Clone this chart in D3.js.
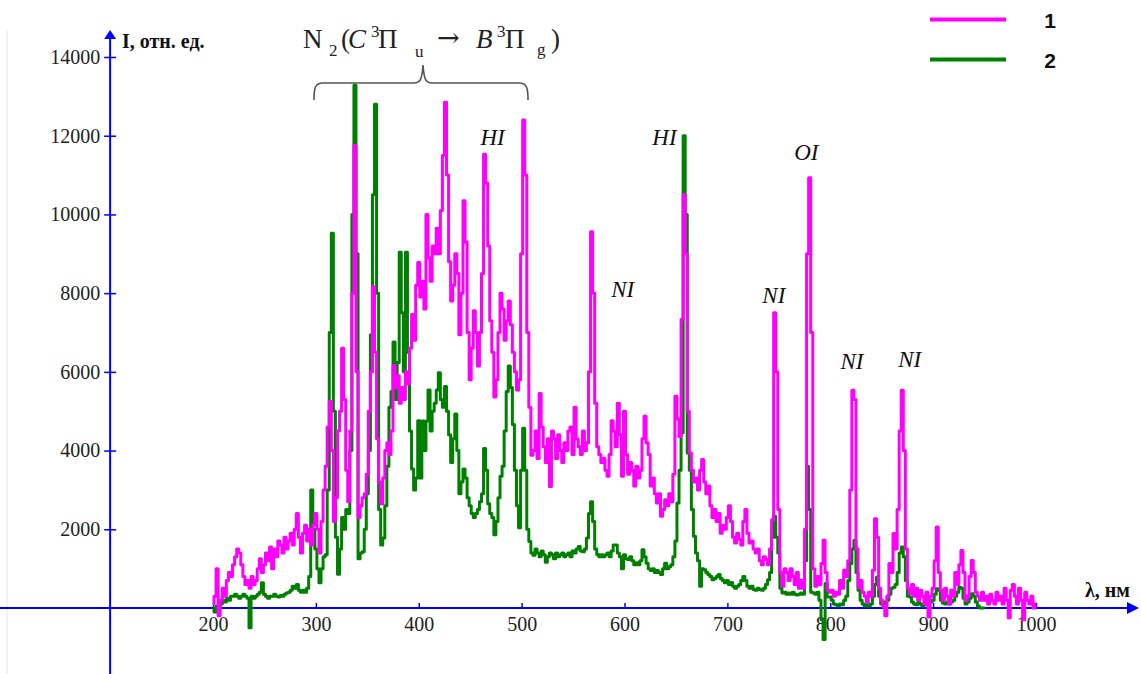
<!DOCTYPE html>
<html>
<head>
<meta charset="utf-8">
<script src="https://cdn.jsdelivr.net/npm/d3@7"></script>
<style>
  body { margin: 0; background: #fff; }
  svg { display: block; }
  svg text { font-family: "Liberation Serif", "Times New Roman", "DejaVu Serif", serif; }
  svg text.sans { font-family: "Liberation Sans", Arial, sans-serif; }
  svg text.arrow { font-family: "DejaVu Serif", serif; }
</style>
</head>
<body>
<svg width="1141" height="674"></svg>
<script>
// wavelength grid, nm
var wavelengths = [
  200,202,204,206,208,210,212,214,216,218,220,222,224,226,228,230,232,234,236,238,
  240,242,244,246,248,250,252,254,256,258,260,262,264,266,268,270,272,274,276,278,
  280,282,284,286,288,290,292,294,296,298,300,302,304,306,308,310,312,314,316,318,
  320,322,324,326,328,330,332,334,336,338,340,342,344,346,348,350,352,354,356,358,
  360,362,364,366,368,370,372,374,376,378,380,382,384,386,388,390,392,394,396,398,
  400,402,404,406,408,410,412,414,416,418,420,422,424,426,428,430,432,434,436,438,
  440,442,444,446,448,450,452,454,456,458,460,462,464,466,468,470,472,474,476,478,
  480,482,484,486,488,490,492,494,496,498,500,502,504,506,508,510,512,514,516,518,
  520,522,524,526,528,530,532,534,536,538,540,542,544,546,548,550,552,554,556,558,
  560,562,564,566,568,570,572,574,576,578,580,582,584,586,588,590,592,594,596,598,
  600,602,604,606,608,610,612,614,616,618,620,622,624,626,628,630,632,634,636,638,
  640,642,644,646,648,650,652,654,656,658,660,662,664,666,668,670,672,674,676,678,
  680,682,684,686,688,690,692,694,696,698,700,702,704,706,708,710,712,714,716,718,
  720,722,724,726,728,730,732,734,736,738,740,742,744,746,748,750,752,754,756,758,
  760,762,764,766,768,770,772,774,776,778,780,782,784,786,788,790,792,794,796,798,
  800,802,804,806,808,810,812,814,816,818,820,822,824,826,828,830,832,834,836,838,
  840,842,844,846,848,850,852,854,856,858,860,862,864,866,868,870,872,874,876,878,
  880,882,884,886,888,890,892,894,896,898,900,902,904,906,908,910,912,914,916,918,
  920,922,924,926,928,930,932,934,936,938,940,942,944,946,948,950,952,954,956,958,
  960,962,964,966,968,970,972,974,976,978,980,982,984,986,988,990,992,994,996,998,
  1000
];

// spectrum 1 (magenta), 200..1000 nm
var series1 = [
  100,300,1000,-200,200,500,300,700,900,800,1100,1300,1500,1400,1100,800,600,700,500,800,
  600,700,1000,1250,900,1100,1400,1200,1550,1000,1500,1300,1700,1600,1400,1800,1500,1700,1900,1600,
  2000,2400,1800,1400,1900,2100,1700,2000,1600,2100,2400,2000,1400,2200,3000,3600,4600,5250,4000,2200,
  2800,4500,5000,6600,5300,3500,2700,4500,8000,11750,6000,2300,2600,2800,2900,3400,5000,6000,8160,6500,
  4300,3200,2650,3300,4000,4200,3900,4500,6160,5600,5900,5200,5600,5300,6000,5700,6600,7460,6800,8200,
  8780,7900,8300,7600,10000,8900,8300,9200,9000,9650,9000,10100,11500,12850,11000,8800,7800,8200,9000,8500,
  6940,8000,10350,9300,7000,5800,6600,7550,7000,6150,7000,8500,11530,10800,9200,7300,6500,5360,5800,7000,
  8000,7600,6800,7300,7800,7200,6500,6000,5540,5800,9000,12400,11000,7000,5100,3880,4000,4500,3800,5450,
  4600,4100,3700,4300,3090,4500,4300,3800,4400,4000,3700,4200,4000,4500,4600,3900,5100,4300,4100,3900,
  4500,4000,4200,6000,9560,8000,5200,4100,3900,3700,3800,3500,3350,3900,4760,4500,4100,5200,4400,3350,
  5000,3900,3400,3700,3500,3100,3600,3300,3500,4300,4870,4200,3900,3100,3300,2900,2670,2900,2330,2500,
  2750,2600,2900,2700,3400,5380,4800,4360,7330,10500,9000,5000,3940,3500,3200,3300,3000,3500,3770,3200,
  2900,3100,2600,2300,2500,2200,2400,1900,2100,2000,2300,2600,2200,1800,1650,1900,1750,1600,2200,2500,
  1900,1650,1700,1500,1400,1500,1200,1100,1300,1230,1100,1500,2240,7500,6000,2500,900,550,1000,900,
  700,1000,800,600,900,500,700,500,2000,9000,10930,7000,1000,550,800,600,1130,1720,900,450,
  400,450,300,400,350,700,500,960,800,1200,3000,5530,5300,1500,530,700,400,300,150,400,
  300,960,2270,1800,500,200,30,-200,300,1130,900,1890,1500,2500,4500,5530,4000,1500,500,360,
  600,300,500,200,450,300,100,400,-230,300,500,1200,2060,900,450,200,500,300,100,450,
  300,900,600,1100,1460,900,200,300,800,1210,900,400,300,200,400,200,300,100,350,200,
  100,400,200,300,100,500,200,-250,450,600,300,100,500,200,-300,400,200,100,300,0,
  100
];

// spectrum 2 (green), 200..950 nm
var series2 = [
  0,-100,50,0,100,200,150,250,200,300,300,350,300,250,300,350,300,250,-500,300,
  250,300,350,400,640,350,300,250,300,300,350,300,280,320,300,350,380,400,450,550,
  500,600,450,400,450,400,500,800,3000,2000,1500,1000,640,1000,1300,1350,3000,7000,9520,5000,
  1800,860,1500,2300,2000,2500,2400,4000,10000,13280,9000,1250,1400,1430,2000,2900,4000,6940,10500,12800,
  8000,2500,1600,1780,2600,3600,5100,5500,6760,5300,6240,9040,7500,6000,9040,6500,4500,3530,3000,3300,
  4760,3300,4750,4000,4750,5540,4500,5000,5200,5540,5980,5300,5100,5630,5000,4400,3700,4300,4930,4000,
  2900,3200,3530,3300,2800,2600,2400,2300,2400,2500,2700,2900,4050,3500,2650,2400,2300,1860,2200,2800,
  3350,3600,4500,5500,6150,5600,4660,3500,2600,2040,3500,4570,3500,2000,1690,1400,1340,1500,1400,1300,
  1450,1350,1160,1300,1400,1350,1250,1400,1300,1350,1400,1300,1350,1400,1300,1450,1400,1500,1560,1450,
  1430,1500,1780,2400,2700,2200,1500,1360,1300,1350,1300,1350,1400,1300,1450,1600,1600,1400,1300,1000,
  1350,1250,1230,1300,1200,1100,1150,1100,1200,1480,1300,1140,1000,950,1000,900,950,900,850,1000,
  1140,1000,1050,1100,1300,1700,2670,3500,4450,12000,10000,3940,3500,2500,1820,1400,1200,550,1000,970,
  900,850,800,720,750,800,850,750,700,640,700,600,650,550,500,550,600,700,800,700,
  550,500,550,470,450,500,470,450,500,600,720,900,1800,2330,1800,1400,500,380,400,350,
  380,350,400,350,330,350,380,350,1200,3600,2500,400,380,350,400,200,-300,-800,620,280,
  280,200,100,80,50,100,80,200,300,700,1130,1500,1720,900,450,200,100,50,80,50,
  100,300,600,790,300,100,150,100,200,350,500,530,600,900,1400,1550,1300,700,300,280,
  150,100,80,150,100,50,100,80,100,150,200,350,490,450,200,130,100,150,100,150,
  200,300,400,530,500,250,100,150,250,360,300,150,50,0,0,0
];

var xTicks = [200, 300, 400, 500, 600, 700, 800, 900, 1000];
var yTicks = [2000, 4000, 6000, 8000, 10000, 12000, 14000];

var legendLabels = ["1", "2"];
var seriesColors = ["#ff00ff", "#008000"];

// line labels: text, wavelength of left edge, intensity of baseline
var peakLabels = ["HI", "HI", "OI", "NI", "NI", "NI", "NI"];
var peakLambda = [460, 627, 765, 587, 734, 810, 866];
var peakLevel = [11770, 11770, 11390, 7910, 7750, 6080, 6130];

var svg = d3.select("svg");

var x = d3.scaleLinear().domain([200, 1000]).range([213, 1036]);
var y = d3.scaleLinear().domain([0, 14000]).range([608, 57]);

var axisColor = "#0000ff";
var x0 = x(100);   // vertical axis sits at 100 nm
var y0 = y(0);

// faint frame line on the left
svg.append("line")
  .attr("x1", 7).attr("x2", 7)
  .attr("y1", 30).attr("y2", 674)
  .attr("stroke", "#e8e8e8")
  .attr("stroke-width", 1);

// horizontal axis with arrow
svg.append("line")
  .attr("x1", 0).attr("x2", 1130)
  .attr("y1", y0).attr("y2", y0)
  .attr("stroke", axisColor)
  .attr("stroke-width", 2);
svg.append("path")
  .attr("d", "M1139," + y0 + " L1127," + (y0 - 6) + " L1127," + (y0 + 6) + " Z")
  .attr("fill", axisColor);

// vertical axis with arrow
svg.append("line")
  .attr("x1", x0).attr("x2", x0)
  .attr("y1", 674).attr("y2", 38)
  .attr("stroke", axisColor)
  .attr("stroke-width", 2);
svg.append("path")
  .attr("d", "M" + x0 + ",30 L" + (x0 - 6) + ",39 L" + (x0 + 6) + ",39 Z")
  .attr("fill", axisColor);

// x ticks
var gx = svg.append("g")
  .attr("transform", "translate(0," + y0 + ")")
  .call(d3.axisBottom(x).tickValues(xTicks).tickFormat(d3.format("d")))
  .attr("font-family", null)
  .attr("font-size", null);
gx.select(".domain").remove();
gx.selectAll(".tick line")
  .attr("y1", -5).attr("y2", 1)
  .attr("stroke", axisColor)
  .attr("stroke-width", 1.5);
gx.selectAll(".tick text")
  .attr("y", 9)
  .attr("fill", "#222")
  .style("font-size", "20px");

// y ticks
var gy = svg.append("g")
  .attr("transform", "translate(" + x0 + ",0)")
  .call(d3.axisLeft(y).tickValues(yTicks).tickFormat(d3.format("d")))
  .attr("font-family", null)
  .attr("font-size", null);
gy.select(".domain").remove();
gy.selectAll(".tick line")
  .attr("x1", 6).attr("x2", -6)
  .attr("stroke", axisColor)
  .attr("stroke-width", 1.5);
gy.selectAll(".tick text")
  .attr("x", -10)
  .attr("fill", "#222")
  .style("font-size", "20px");

// axis titles
svg.append("text")
  .attr("x", 122).attr("y", 48)
  .attr("fill", "#111")
  .style("font-size", "20px")
  .style("font-weight", "bold")
  .text("I, отн. ед.");
svg.append("text")
  .attr("x", 1085).attr("y", 597)
  .attr("fill", "#111")
  .style("font-size", "20px")
  .style("font-weight", "bold")
  .text("λ, нм");

// spectra
var line = d3.line()
  .curve(d3.curveStep)
  .x(function(d, i) { return x(wavelengths[i]); })
  .y(function(d) { return y(d); });

svg.append("path")
  .attr("d", line(series2))
  .attr("fill", "none")
  .attr("stroke", seriesColors[1])
  .attr("stroke-width", 3)
  .attr("stroke-linejoin", "round");

svg.append("path")
  .attr("d", line(series1))
  .attr("fill", "none")
  .attr("stroke", seriesColors[0])
  .attr("stroke-width", 3)
  .attr("stroke-linejoin", "round");

// peak labels
svg.selectAll(".peak")
  .data(peakLabels)
  .enter().append("text")
  .attr("class", "peak")
  .attr("x", function(d, i) { return x(peakLambda[i]); })
  .attr("y", function(d, i) { return y(peakLevel[i]); })
  .attr("fill", "#111")
  .style("font-style", "italic")
  .style("font-size", "23px")
  .text(function(d) { return d; });

// band title N2(C3Pu -> B3Pg), pieces placed one by one
var titleParts = [
  {t: "N", x: 303, y: 48, s: 27},
  {t: "2", x: 329, y: 56, s: 17},
  {t: "(", x: 341, y: 48, s: 27},
  {t: "C", x: 348, y: 48, s: 27, it: true},
  {t: "3", x: 371, y: 37, s: 17},
  {t: "Π", x: 378, y: 48, s: 27},
  {t: "u", x: 415, y: 57, s: 17},
  {t: "→", x: 437, y: 47, s: 27, cls: "arrow"},
  {t: "B", x: 476, y: 48, s: 27, it: true},
  {t: "3", x: 497, y: 37, s: 17},
  {t: "Π", x: 505, y: 48, s: 27},
  {t: "g", x: 537, y: 55, s: 17},
  {t: ")", x: 551, y: 48, s: 27}
];
svg.selectAll(".title")
  .data(titleParts)
  .enter().append("text")
  .attr("class", function(d) { return d.cls || "title"; })
  .attr("x", function(d) { return d.x; })
  .attr("y", function(d) { return d.y; })
  .attr("fill", "#222")
  .style("font-size", function(d) { return d.s + "px"; })
  .style("font-style", function(d) { return d.it ? "italic" : "normal"; })
  .text(function(d) { return d.t; });

// curly brace under the title
svg.append("path")
  .attr("d", "M314,100 C314,88 315,83 323,83 L414,83 C420,83 422,80 423,65 " +
             "C424,80 426,83 432,83 L519,83 C527,83 528,88 528,100")
  .attr("fill", "none")
  .attr("stroke", "#555")
  .attr("stroke-width", 1.6);

// legend
var legend = svg.selectAll(".legend")
  .data(legendLabels)
  .enter().append("g")
  .attr("class", "legend")
  .attr("transform", function(d, i) { return "translate(0," + (19.5 + i * 40) + ")"; });
legend.append("line")
  .attr("x1", 930).attr("x2", 1006)
  .attr("stroke", function(d, i) { return seriesColors[i]; })
  .attr("stroke-width", 4);
legend.append("text")
  .attr("class", "sans")
  .attr("x", 1050).attr("y", 8)
  .attr("text-anchor", "middle")
  .attr("fill", "#111")
  .style("font-size", "21px")
  .style("font-weight", "bold")
  .text(function(d) { return d; });
</script>
</body>
</html>
